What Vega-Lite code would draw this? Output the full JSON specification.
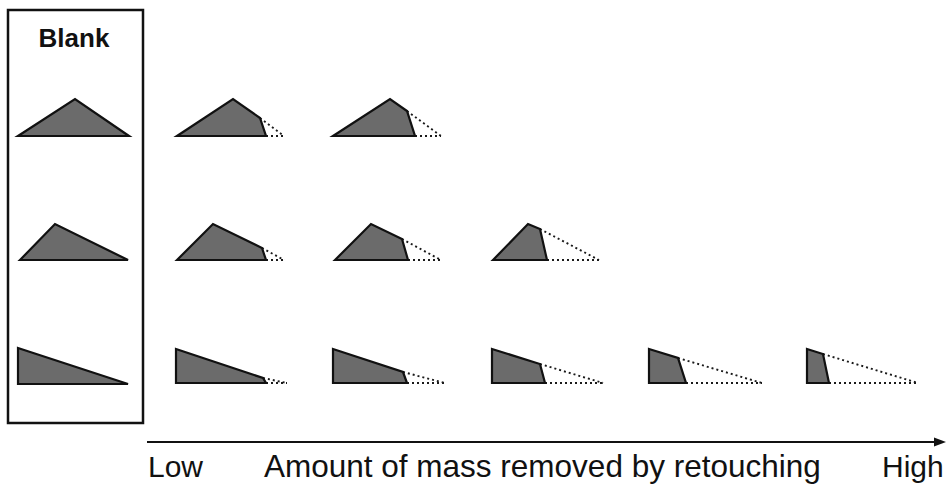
{
  "$schema": "https://vega.github.io/schema/vega-lite/v6.json",
  "width": 948,
  "height": 484,
  "autosize": {"type": "fit", "contains": "padding"},
  "padding": 0,
  "background": "white",
  "config": {"view": {"stroke": null}},
  "datasets": {
    "shapes": [
      {"id": "A1", "x": 18, "y": 136, "b": 136}, {"id": "A1", "x": 75, "y": 99, "b": 136}, {"id": "A1", "x": 129, "y": 136, "b": 136},
      {"id": "A2", "x": 20, "y": 260, "b": 260}, {"id": "A2", "x": 55, "y": 224, "b": 260}, {"id": "A2", "x": 128, "y": 260, "b": 260},
      {"id": "A3", "x": 18, "y": 348, "b": 384}, {"id": "A3", "x": 128, "y": 384, "b": 384},
      {"id": "R1C1", "x": 177, "y": 136, "b": 136}, {"id": "R1C1", "x": 233, "y": 99, "b": 136}, {"id": "R1C1", "x": 260, "y": 118, "b": 136}, {"id": "R1C1", "x": 266, "y": 136, "b": 136},
      {"id": "R1C2", "x": 333, "y": 136, "b": 136}, {"id": "R1C2", "x": 390, "y": 99, "b": 136}, {"id": "R1C2", "x": 407, "y": 111, "b": 136}, {"id": "R1C2", "x": 415, "y": 136, "b": 136},
      {"id": "R2C1", "x": 177, "y": 260, "b": 260}, {"id": "R2C1", "x": 213, "y": 224, "b": 260}, {"id": "R2C1", "x": 262, "y": 248, "b": 260}, {"id": "R2C1", "x": 266, "y": 260, "b": 260},
      {"id": "R2C2", "x": 335, "y": 260, "b": 260}, {"id": "R2C2", "x": 371, "y": 224, "b": 260}, {"id": "R2C2", "x": 402, "y": 239, "b": 260}, {"id": "R2C2", "x": 408, "y": 260, "b": 260},
      {"id": "R2C3", "x": 493, "y": 260, "b": 260}, {"id": "R2C3", "x": 528, "y": 224, "b": 260}, {"id": "R2C3", "x": 540, "y": 229, "b": 260}, {"id": "R2C3", "x": 547, "y": 260, "b": 260},
      {"id": "R3C1", "x": 176, "y": 349, "b": 383}, {"id": "R3C1", "x": 263, "y": 378, "b": 383}, {"id": "R3C1", "x": 266, "y": 383, "b": 383},
      {"id": "R3C2", "x": 333, "y": 349, "b": 383}, {"id": "R3C2", "x": 403, "y": 372, "b": 383}, {"id": "R3C2", "x": 407, "y": 383, "b": 383},
      {"id": "R3C3", "x": 492, "y": 349, "b": 383}, {"id": "R3C3", "x": 540, "y": 364, "b": 383}, {"id": "R3C3", "x": 545, "y": 383, "b": 383},
      {"id": "R3C4", "x": 649, "y": 349, "b": 383}, {"id": "R3C4", "x": 678, "y": 358, "b": 383}, {"id": "R3C4", "x": 686, "y": 383, "b": 383},
      {"id": "R3C5", "x": 807, "y": 349, "b": 383}, {"id": "R3C5", "x": 823, "y": 354, "b": 383}, {"id": "R3C5", "x": 829, "y": 383, "b": 383}
    ],
    "dots": [
      {"id": "R1C1a", "x": 260, "y": 118}, {"id": "R1C1a", "x": 284, "y": 136},
      {"id": "R1C1b", "x": 266, "y": 136}, {"id": "R1C1b", "x": 284, "y": 136},
      {"id": "R1C2a", "x": 407, "y": 111}, {"id": "R1C2a", "x": 441, "y": 136},
      {"id": "R1C2b", "x": 415, "y": 136}, {"id": "R1C2b", "x": 441, "y": 136},
      {"id": "R2C1a", "x": 262, "y": 248}, {"id": "R2C1a", "x": 284, "y": 260},
      {"id": "R2C1b", "x": 266, "y": 260}, {"id": "R2C1b", "x": 284, "y": 260},
      {"id": "R2C2a", "x": 402, "y": 239}, {"id": "R2C2a", "x": 441, "y": 260},
      {"id": "R2C2b", "x": 408, "y": 260}, {"id": "R2C2b", "x": 441, "y": 260},
      {"id": "R2C3a", "x": 540, "y": 229}, {"id": "R2C3a", "x": 599, "y": 260},
      {"id": "R2C3b", "x": 547, "y": 260}, {"id": "R2C3b", "x": 599, "y": 260},
      {"id": "R3C1a", "x": 263, "y": 378}, {"id": "R3C1a", "x": 287, "y": 383},
      {"id": "R3C1b", "x": 266, "y": 383}, {"id": "R3C1b", "x": 287, "y": 383},
      {"id": "R3C2a", "x": 403, "y": 372}, {"id": "R3C2a", "x": 445, "y": 383},
      {"id": "R3C2b", "x": 407, "y": 383}, {"id": "R3C2b", "x": 445, "y": 383},
      {"id": "R3C3a", "x": 540, "y": 364}, {"id": "R3C3a", "x": 603, "y": 383},
      {"id": "R3C3b", "x": 545, "y": 383}, {"id": "R3C3b", "x": 603, "y": 383},
      {"id": "R3C4a", "x": 678, "y": 358}, {"id": "R3C4a", "x": 762, "y": 383},
      {"id": "R3C4b", "x": 686, "y": 383}, {"id": "R3C4b", "x": 762, "y": 383},
      {"id": "R3C5a", "x": 823, "y": 354}, {"id": "R3C5a", "x": 918, "y": 383},
      {"id": "R3C5b", "x": 829, "y": 383}, {"id": "R3C5b", "x": 918, "y": 383}
    ],
    "box": [{"x": 8, "x2": 143, "y": 10, "y2": 423}],
    "axisline": [{"x": 147, "x2": 937, "y": 442}],
    "arrowhead": [{"x": 934, "y": 437.5, "b": 446.5}, {"x": 946, "y": 442, "b": 442}],
    "ends": [
      {"label": "Low", "x": 148, "y": 477},
      {"label": "High", "x": 882, "y": 477}
    ],
    "middle": [
      {"label": "Amount of mass removed by retouching", "x": 264, "y": 477}
    ],
    "title": [{"label": "Blank", "x": 74, "y": 47}]
  },
  "layer": [
    {
      "data": {"name": "box"},
      "mark": {"type": "rect", "fill": null, "stroke": "#111111", "strokeWidth": 2.5},
      "encoding": {
        "x": {"field": "x", "type": "quantitative", "scale": {"domain": [0, 948], "nice": false, "zero": false}, "axis": null},
        "x2": {"field": "x2"},
        "y": {"field": "y", "type": "quantitative", "scale": {"domain": [0, 484], "nice": false, "zero": false, "reverse": true}, "axis": null},
        "y2": {"field": "y2"}
      }
    },
    {
      "data": {"name": "dots"},
      "mark": {"type": "line", "stroke": "#1a1a1a", "strokeWidth": 1.9, "strokeDash": [2, 3]},
      "encoding": {
        "x": {"field": "x", "type": "quantitative"},
        "y": {"field": "y", "type": "quantitative"},
        "detail": {"field": "id"}
      }
    },
    {
      "data": {"name": "shapes"},
      "mark": {"type": "area", "fill": "#6b6b6b", "fillOpacity": 1, "stroke": "#111111", "strokeWidth": 2.2, "strokeJoin": "miter"},
      "encoding": {
        "x": {"field": "x", "type": "quantitative"},
        "y": {"field": "y", "type": "quantitative"},
        "y2": {"field": "b"},
        "detail": {"field": "id"}
      }
    },
    {
      "data": {"name": "axisline"},
      "mark": {"type": "rule", "stroke": "#111111", "strokeWidth": 2},
      "encoding": {
        "x": {"field": "x", "type": "quantitative"},
        "x2": {"field": "x2"},
        "y": {"field": "y", "type": "quantitative"}
      }
    },
    {
      "data": {"name": "arrowhead"},
      "mark": {"type": "area", "fill": "#111111", "fillOpacity": 1},
      "encoding": {
        "x": {"field": "x", "type": "quantitative"},
        "y": {"field": "y", "type": "quantitative"},
        "y2": {"field": "b"}
      }
    },
    {
      "data": {"name": "ends"},
      "mark": {"type": "text", "font": "Liberation Sans", "fontSize": 30, "align": "left", "baseline": "alphabetic", "color": "#111111"},
      "encoding": {
        "x": {"field": "x", "type": "quantitative"},
        "y": {"field": "y", "type": "quantitative"},
        "text": {"field": "label"}
      }
    },
    {
      "data": {"name": "middle"},
      "mark": {"type": "text", "font": "Liberation Sans", "fontSize": 31.5, "align": "left", "baseline": "alphabetic", "color": "#111111"},
      "encoding": {
        "x": {"field": "x", "type": "quantitative"},
        "y": {"field": "y", "type": "quantitative"},
        "text": {"field": "label"}
      }
    },
    {
      "data": {"name": "title"},
      "mark": {"type": "text", "font": "Liberation Sans", "fontSize": 26, "fontWeight": "bold", "align": "center", "baseline": "alphabetic", "color": "#111111"},
      "encoding": {
        "x": {"field": "x", "type": "quantitative"},
        "y": {"field": "y", "type": "quantitative"},
        "text": {"field": "label"}
      }
    }
  ]
}
